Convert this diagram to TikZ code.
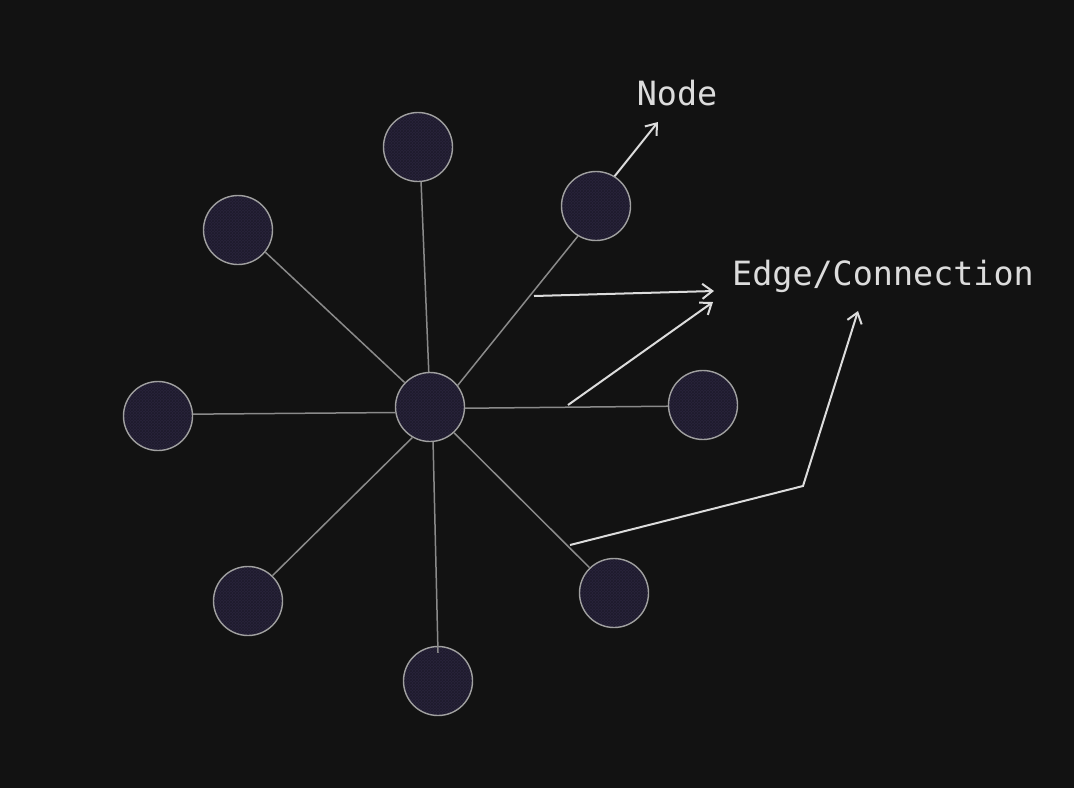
\documentclass[tikz,border=0pt]{standalone}
\usepackage{fontspec}
\newfontfamily\monofont{DejaVu Sans Mono}
\usetikzlibrary{arrows.meta,patterns}
\definecolor{bg}{HTML}{121212}
\definecolor{nodefill}{HTML}{29243C}
\definecolor{hatch}{HTML}{1E1B2C}
\definecolor{nodeline}{HTML}{A0A0A0}
\definecolor{edgeline}{HTML}{8A8A8A}
\definecolor{annot}{HTML}{DCDCDC}
\tikzset{
  dot/.style={circle, draw=nodeline, line width=1.4pt, minimum size=69pt, inner sep=0pt,
    preaction={fill=nodefill}, preaction={pattern=crosshatch, pattern color=hatch}},
  link/.style={draw=edgeline, line width=1.5pt},
  pointer/.style={draw=annot, line width=2pt, -{Straight Barb[length=10pt,width=15pt,line width=2pt]}},
  label/.style={text=annot, font=\monofont\fontsize{33.4}{40}\selectfont, inner sep=0pt}
}
\begin{document}
\begin{tikzpicture}[x=1pt,y=-1pt]
\fill[bg] (0,0) rectangle (1074,788);
\useasboundingbox (0,0) rectangle (1074,788);
\node[dot] (c) at (430,407) {};
\node[dot] (t) at (418,147) {};
\node[dot] (ul) at (238,230) {};
\node[dot] (ur) at (596,206) {};
\node[dot] (l) at (158,416) {};
\node[dot] (r) at (703,405) {};
\node[dot] (ll) at (248,601) {};
\node[dot] (b) at (438,681) {};
\node[dot] (lr) at (614,593) {};
\draw[link] (c.92) -- (t.275);
\draw[link] (c.136) -- (ul.321);
\draw[link] (c.38) -- (ur.239);
\draw[link] (c.189) -- (l.3);
\draw[link] (c.358) -- (r.182);
\draw[link] (c.240) -- (ll.46);
\draw[link] (c.275) -- ([yshift=-7pt]b.90);
\draw[link] (c.313) -- (lr.134);
\node[label] (nodetxt) at (677,93) {Node};
\node[label] (edgetxt) at (883,276) {Edge/Connection};
\coordinate (n1) at (658,122);
\coordinate (e1s) at (534,296);
\coordinate (e1) at (714,291);
\coordinate (e2s) at (568,405);
\coordinate (e2) at (713,302);
\coordinate (e3s) at (570,545);
\coordinate (e3m) at (803,486);
\coordinate (e3) at (858,311);
\draw[pointer] (ur.58) -- (n1);
\draw[pointer] (e1s) -- (e1);
\draw[pointer] (e2s) -- (e2);
\draw[pointer] (e3s) -- (e3m) -- (e3);
\end{tikzpicture}
\end{document}
